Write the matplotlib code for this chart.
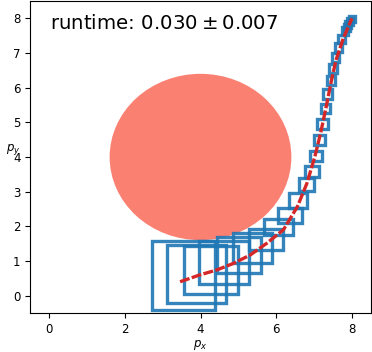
import matplotlib
matplotlib.use("Agg")
import matplotlib.pyplot as plt
from matplotlib.patches import Circle, Rectangle

# obstacle
obs_center = (4.0, 4.0)
obs_radius = 2.4

# planned path
path_x = [3.46, 3.99, 4.43, 4.87, 5.31, 5.75, 6.19, 6.56, 6.81, 7.02, 7.17, 7.32, 7.46, 7.58, 7.77, 8.0]
path_y = [0.40, 0.60, 0.74, 0.93, 1.17, 1.51, 1.90, 2.57, 3.24, 4.01, 4.68, 5.45, 6.22, 6.80, 7.42, 8.0]

# boxes: centre and size
box_cx = [3.55, 3.90, 4.27, 4.63, 5.01, 5.38, 5.73, 6.06, 6.36, 6.57, 6.79, 6.94, 7.04,
          7.14, 7.22, 7.31, 7.36, 7.44, 7.50, 7.57, 7.65, 7.73, 7.81, 7.86, 7.90, 7.95, 7.99]
box_cy = [0.59, 0.63, 0.75, 0.95, 1.17, 1.38, 1.62, 1.98, 2.30, 2.74, 3.21, 3.59, 4.03,
          4.49, 4.96, 5.40, 5.81, 6.21, 6.56, 6.87, 7.16, 7.41, 7.63, 7.73, 7.82, 7.91, 7.99]
box_w = [1.68, 1.57, 1.43, 1.32, 1.16, 1.03, 0.90, 0.79, 0.64, 0.49, 0.39, 0.37, 0.32,
         0.31, 0.29, 0.24, 0.23, 0.21, 0.20, 0.20, 0.18, 0.18, 0.16, 0.16, 0.15, 0.15, 0.16]
box_h = [2.00, 1.66, 1.39, 1.23, 1.03, 0.85, 0.60, 0.46, 0.43, 0.43, 0.36, 0.32, 0.31,
         0.31, 0.28, 0.28, 0.28, 0.27, 0.26, 0.25, 0.24, 0.23, 0.22, 0.21, 0.21, 0.20, 0.18]

runtime_mean = 0.030
runtime_std = 0.007

fig = plt.figure(figsize=(3.72, 3.52), dpi=100)
ax = fig.add_axes([0.081, 0.111, 0.916, 0.886])

ax.add_patch(Circle(obs_center, obs_radius, color="salmon", lw=0))

for cx, cy, w, h in zip(box_cx, box_cy, box_w, box_h):
    ax.add_patch(Rectangle((cx - w / 2, cy - h / 2), w, h, fill=False,
                           edgecolor="tab:blue", lw=2.4, alpha=0.9))

ax.plot(path_x, path_y, color="tab:red", ls="--", lw=2.4, dashes=(3, 0.7))

ax.text(0.057, 0.96, f"runtime: ${runtime_mean:.3f} \\pm {runtime_std:.3f}$",
        transform=ax.transAxes, fontsize=14.2, va="top", ha="left")

ax.set_xlim(-0.5, 8.5)
ax.set_ylim(-0.5, 8.5)
ax.set_xticks([0, 2, 4, 6, 8])
ax.set_yticks(range(0, 9))
ax.tick_params(labelsize=8.5)
ax.set_xlabel("$p_x$", fontsize=8.5, labelpad=2)
ax.set_ylabel("$p_y$", fontsize=8.5, rotation=0, labelpad=0)

fig.savefig("out.png", dpi=100)
